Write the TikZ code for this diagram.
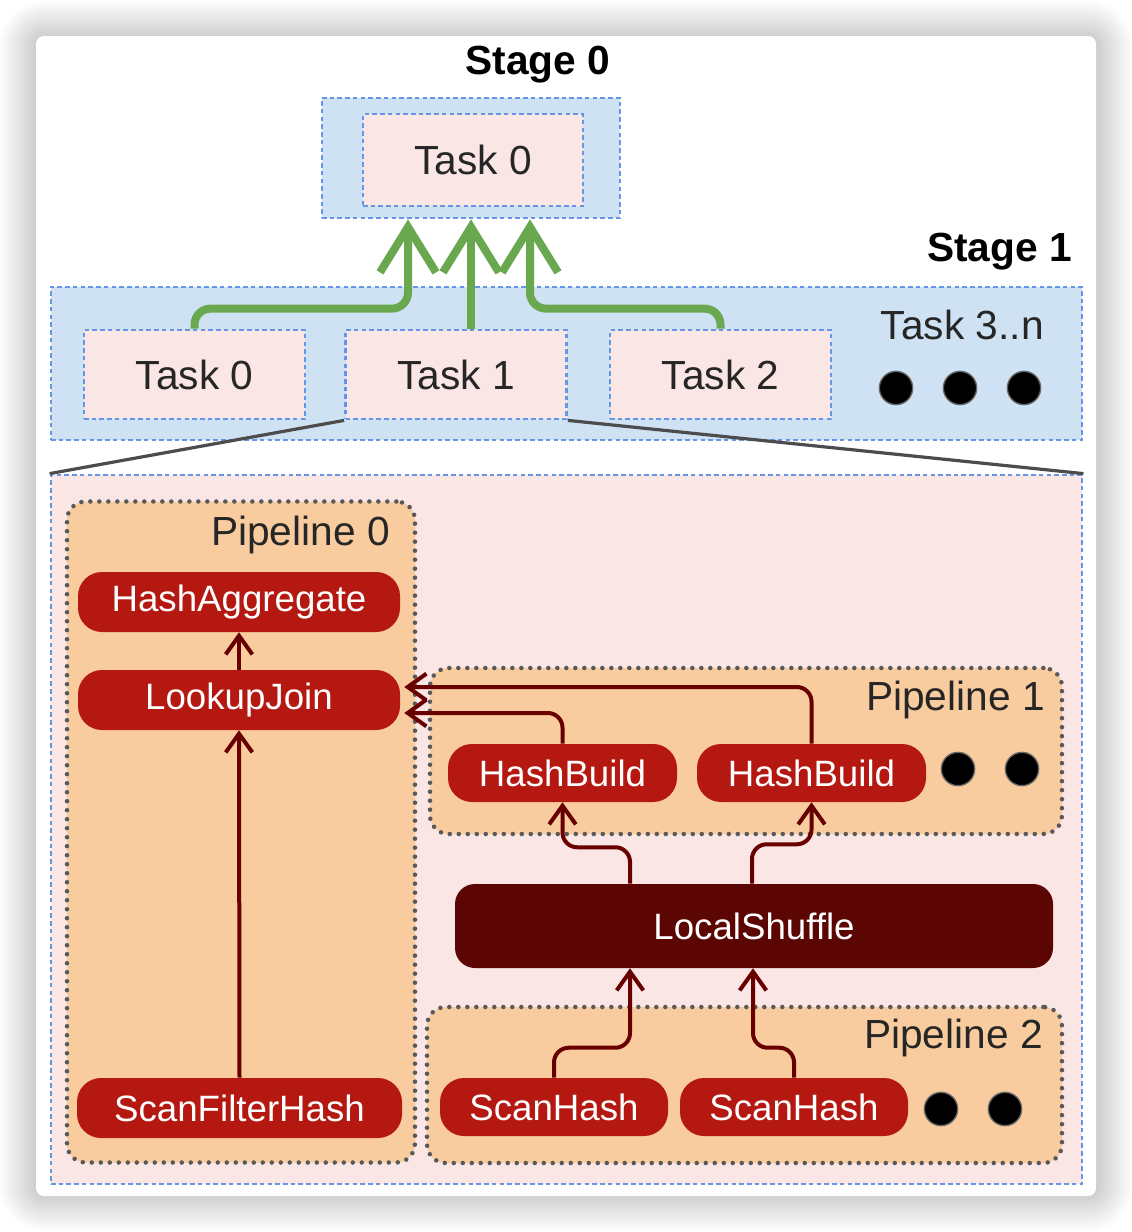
\documentclass[tikz,border=0pt]{standalone}
\usepackage{fontspec}
\setmainfont{Liberation Sans}
\usetikzlibrary{arrows.meta,calc}
\definecolor{StageFill}{RGB}{207,226,243}
\definecolor{StageLine}{RGB}{100,150,232}
\definecolor{TaskFill}{RGB}{251,230,230}
\definecolor{PipeFill}{RGB}{248,204,158}
\definecolor{OpRed}{RGB}{180,24,16}
\definecolor{ShuffleRed}{RGB}{91,6,3}
\definecolor{FlowRed}{RGB}{104,0,0}
\definecolor{FlowGreen}{RGB}{106,168,79}
\newcommand{\opfont}{\fontsize{27.5}{30}\selectfont}
\newcommand{\lblfont}{\fontsize{30.5}{34}\selectfont}

\begin{document}
\begin{tikzpicture}[
  x=0.75pt, y=-0.75pt,
  stagebox/.style={
    rectangle, draw=StageLine, fill=StageFill, line width=2.1pt,
    dash pattern=on 3.4pt off 2.4pt, inner sep=0pt
  },
  taskbox/.style={
    stagebox, fill=TaskFill, minimum width=165.75pt, minimum height=66.75pt,
    font=\lblfont, text=black!85
  },
  pipebox/.style={
    rectangle, rounded corners=14pt, draw=black!65, fill=PipeFill, line width=3.4pt,
    dash pattern=on 0pt off 6.75pt, line cap=round, inner sep=0pt
  },
  op/.style={
    rectangle, rounded corners=18pt, fill=OpRed, text=white, font=\opfont,
    minimum width=241.5pt, minimum height=45pt, inner sep=0pt
  },
  lbl/.style={font=\lblfont, text=black!85, inner sep=0pt},
  dot/.style={circle, fill=black, draw=black!60, line width=1pt, minimum size=25pt, inner sep=0pt},
  greenarr/.style={draw=FlowGreen, line width=6pt, rounded corners=12pt, -{Straight Barb[length=34pt, width=42pt]}},
  redarr/.style={draw=FlowRed, line width=3pt, rounded corners=11pt, -{Straight Barb[length=14pt, width=20pt]}},
  zoomline/.style={draw=black!70, line width=2.4pt}
]

% --- card with soft shadow
\useasboundingbox (0,0) rectangle (1132,1232);
\fill[white] (0,0) rectangle (1132,1232);
\foreach \s [evaluate=\s as \r using 0.75*\s+6] in {3,6,...,36}
  \fill[black, opacity=0.016, rounded corners=\r pt] (36-\s,36-\s+2) rectangle (1096+\s,1196+\s-2);
\fill[white, rounded corners=6pt] (36,36) rectangle (1096,1196);

% --- Stage 0
\node[lbl, font=\lblfont\bfseries, text=black] (st0lbl) at (538,65) {Stage 0};
\node[stagebox, minimum width=223.5pt, minimum height=90pt] (stage0) at (471,158) {};
\node[taskbox, minimum width=165pt, minimum height=69pt] (top) at (473,160) {Task 0};

% --- Stage 1
\node[stagebox, minimum width=773.25pt, minimum height=114.75pt] (stage1) at (566.5,363.5) {};
\node[lbl, font=\lblfont\bfseries, text=black, anchor=east] (st1lbl) at (1072,252) {Stage 1};
\node[taskbox] (t0) at (194.5,374.5) {Task 0};
\node[taskbox] (t1) at (456,374.5) {Task 1};
\node[taskbox] (t2) at (720.5,374.5) {Task 2};
\node[lbl, anchor=east] (tn) at (1044,325) {Task 3..n};
\node[dot] (tnd1) at (896,388) {};
\node[dot] (tnd2) at (960,388) {};
\node[dot] (tnd3) at (1024,388) {};

% --- Stage 1 -> Stage 0
\draw[greenarr] (t0.north) -- ++(0,-20) -| ($(stage0.south)+(-63,0)$);
\draw[greenarr] (t1.north -| stage0.south) -- (stage0.south);
\draw[greenarr] (t2.north) -- ++(0,-20) -| ($(stage0.south)+(59,0)$);

% --- inside Task 1
\node[stagebox, fill=TaskFill, minimum width=773.25pt, minimum height=531.75pt] (inside) at (566.5,829.5) {};
\draw[zoomline] (t1.south west) -- (inside.north west);
\draw[zoomline] (t1.south east) -- (inside.north east);

% --- Pipeline 0
\node[pipebox, minimum width=261pt, minimum height=495.75pt] (pipe0) at (241,832) {};
\node[lbl, anchor=east] (pipe0lbl) at (390,535) {Pipeline 0};
\node[op] (hagg) at (239,602) {HashAggregate};
\node[op] (ljoin) at (239,700) {LookupJoin};
\node[op, minimum width=243.75pt] (sfh) at (239.5,1108) {ScanFilterHash};

% --- Pipeline 1
\node[pipebox, minimum width=474pt, minimum height=124.5pt] (pipe1) at (746,751) {};
\node[lbl, anchor=east] (pipe1lbl) at (1045,700) {Pipeline 1};
\node[op, minimum width=171.75pt, minimum height=43.5pt] (hb1) at (562.5,773) {HashBuild};
\node[op, minimum width=171.75pt, minimum height=43.5pt] (hb2) at (811.5,773) {HashBuild};
\node[dot] (p1d1) at (958,769) {};
\node[dot] (p1d2) at (1022,769) {};

% --- LocalShuffle
\node[op, fill=ShuffleRed, rounded corners=15pt, minimum width=448.5pt, minimum height=63pt] (ls) at (754,926) {LocalShuffle};

% --- Pipeline 2
\node[pipebox, minimum width=476.25pt, minimum height=117pt] (pipe2) at (744.5,1085) {};
\node[lbl, anchor=east] (pipe2lbl) at (1043,1038) {Pipeline 2};
\node[op, minimum width=171pt, minimum height=43.5pt] (sh1) at (554,1107) {ScanHash};
\node[op, minimum width=171pt, minimum height=43.5pt] (sh2) at (794,1107) {ScanHash};
\node[dot] (p2d1) at (941,1109) {};
\node[dot] (p2d2) at (1005,1109) {};

% --- data flow
\draw[redarr] (ljoin.north) -- (hagg.south);
\draw[redarr] (sfh.north) -- (ljoin.south);
\draw[redarr] (hb1.north) |- ($(ljoin.east)+(4,13)$);
\draw[redarr] (hb2.north) |- ($(ljoin.east)+(4,-13)$);
\draw[redarr] ($(ls.north)+(-124,0)$) |- ($(hb1.south)+(0,45)$) -- (hb1.south);
\draw[redarr] ($(ls.north)+(-2,0)$) |- ($(hb2.south)+(0,42)$) -- (hb2.south);
\draw[redarr] (sh1.north) -- ++(0,-30) -| ($(ls.south)+(-124,0)$);
\draw[redarr] (sh2.north) -- ++(0,-30) -| ($(ls.south)+(-1,0)$);

\end{tikzpicture}
\end{document}
